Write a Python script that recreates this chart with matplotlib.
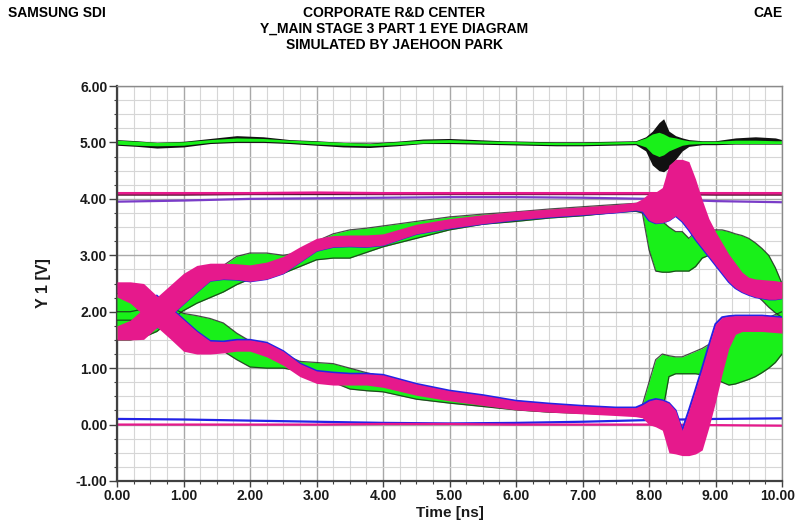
import numpy as np
import matplotlib
matplotlib.use('Agg')
import matplotlib.pyplot as plt
from matplotlib.ticker import MultipleLocator, FormatStrFormatter, FuncFormatter

plt.rcParams['font.family'] = ['Liberation Sans', 'DejaVu Sans']
plt.rcParams['font.weight'] = 'bold'

# time grid of the eye bundles [ns]
t_eye = [0.0, 0.2, 0.4, 0.6, 0.8, 1.0, 1.2, 1.4, 1.6, 1.8,
         2.0, 2.25, 2.5, 2.75, 3.0, 3.25, 3.5, 3.75, 4.0, 4.5,
         5.0, 5.5, 6.0, 6.5, 7.0, 7.5, 7.8, 7.9, 8.0, 8.1,
         8.2, 8.3, 8.4, 8.5, 8.6, 8.7, 8.8, 8.9, 9.0, 9.1,
         9.2, 9.3, 9.4, 9.5, 9.6, 9.7, 9.8, 9.9, 10.0]

# pink bundle, rising edge (upper / lower envelope) [V]
pu_hi = [1.75, 1.85, 2.06, 2.26, 2.47, 2.68, 2.82, 2.86, 2.86, 2.85,
         2.83, 2.88, 2.98, 3.15, 3.30, 3.35, 3.36, 3.36, 3.38, 3.55,
         3.65, 3.72, 3.78, 3.82, 3.86, 3.90, 3.94, 4.00, 4.10, 4.12,
         4.20, 4.60, 4.70, 4.70, 4.66, 4.35, 3.98, 3.65, 3.42, 3.22,
         3.02, 2.86, 2.70, 2.61, 2.58, 2.57, 2.56, 2.55, 2.53]
pu_lo = [1.50, 1.50, 1.51, 1.72, 1.93, 2.14, 2.35, 2.55, 2.58, 2.57,
         2.54, 2.58, 2.68, 2.88, 3.08, 3.15, 3.16, 3.15, 3.18, 3.38,
         3.48, 3.56, 3.63, 3.68, 3.72, 3.76, 3.80, 3.78, 3.62, 3.57,
         3.58, 3.62, 3.70, 3.60, 3.45, 3.28, 3.13, 2.98, 2.83, 2.68,
         2.53, 2.42, 2.35, 2.30, 2.26, 2.24, 2.22, 2.22, 2.24]
# pink bundle, falling edge
pd_hi = [2.53, 2.53, 2.50, 2.28, 2.07, 1.86, 1.65, 1.48, 1.47, 1.50,
         1.50, 1.45, 1.30, 1.08, 0.95, 0.92, 0.90, 0.90, 0.88, 0.72,
         0.60, 0.52, 0.42, 0.37, 0.33, 0.30, 0.30, 0.35, 0.42, 0.45,
         0.43, 0.38, 0.25, -0.10, 0.25, 0.62, 1.00, 1.40, 1.78, 1.90,
         1.92, 1.93, 1.93, 1.93, 1.93, 1.93, 1.92, 1.91, 1.90]
pd_lo = [2.26, 2.15, 1.94, 1.73, 1.52, 1.30, 1.25, 1.25, 1.27, 1.30,
         1.30, 1.20, 1.05, 0.85, 0.73, 0.70, 0.70, 0.70, 0.66, 0.52,
         0.42, 0.34, 0.26, 0.22, 0.19, 0.16, 0.14, 0.12, 0.00, -0.04,
         -0.10, -0.50, -0.52, -0.55, -0.55, -0.52, -0.45, -0.05, 0.40, 0.90,
         1.35, 1.60, 1.65, 1.65, 1.65, 1.65, 1.64, 1.63, 1.62]
# green bundle, rising edge
gu_lo = [1.50, 1.50, 1.55, 1.65, 1.85, 2.02, 2.15, 2.25, 2.35, 2.48,
         2.58, 2.62, 2.68, 2.80, 2.92, 2.95, 2.95, 3.05, 3.15, 3.30,
         3.45, 3.55, 3.60, 3.66, 3.70, 3.76, 3.78, 3.75, 3.10, 2.72,
         2.70, 2.70, 2.72, 2.72, 2.72, 2.80, 2.95, 3.00, 3.00, 2.95,
         2.85, 2.70, 2.55, 2.42, 2.30, 2.20, 2.08, 1.98, 1.90]
gu_hi = [2.00, 2.00, 2.05, 2.15, 2.25, 2.35, 2.50, 2.65, 2.82, 2.98,
         3.04, 3.04, 3.00, 3.05, 3.25, 3.38, 3.45, 3.48, 3.52, 3.60,
         3.68, 3.73, 3.77, 3.82, 3.86, 3.90, 3.92, 3.92, 3.85, 3.70,
         3.60, 3.50, 3.42, 3.42, 3.30, 3.42, 3.45, 3.45, 3.45, 3.45,
         3.42, 3.38, 3.35, 3.30, 3.22, 3.12, 3.00, 2.78, 2.50]
# green bundle, falling edge
gd_lo = [1.85, 1.85, 1.82, 1.75, 1.62, 1.50, 1.45, 1.40, 1.30, 1.15,
         1.02, 1.00, 1.00, 0.95, 0.85, 0.75, 0.63, 0.60, 0.58, 0.45,
         0.38, 0.32, 0.26, 0.22, 0.20, 0.18, 0.16, 0.15, 0.05, 0.15,
         0.20, 0.85, 0.90, 0.90, 0.90, 0.90, 0.88, 0.85, 0.80, 0.75,
         0.70, 0.72, 0.76, 0.80, 0.85, 0.92, 1.00, 1.10, 1.25]
gd_hi = [2.32, 2.32, 2.28, 2.20, 2.08, 1.97, 1.93, 1.88, 1.80, 1.62,
         1.48, 1.35, 1.25, 1.12, 1.10, 1.08, 1.00, 0.92, 0.85, 0.68,
         0.58, 0.50, 0.42, 0.36, 0.32, 0.28, 0.26, 0.35, 0.75, 1.15,
         1.25, 1.22, 1.20, 1.20, 1.25, 1.30, 1.35, 1.42, 1.50, 1.58,
         1.66, 1.70, 1.74, 1.78, 1.82, 1.86, 1.90, 1.95, 2.00]

# 5 V rail
top_t = [0.0, 0.3, 0.6, 1.0, 1.4, 1.8, 2.2, 2.6, 3.0, 3.4,
         3.8, 4.2, 4.6, 5.0, 5.4, 5.8, 6.2, 6.6, 7.0, 7.4,
         7.8, 7.95, 8.05, 8.15, 8.22, 8.3, 8.4, 8.5, 8.6, 8.8,
         9.0, 9.3, 9.6, 9.9, 10.0]
blk_hi = [5.05, 5.03, 5.00, 5.02, 5.07, 5.12, 5.10, 5.05, 5.03, 5.00,
          4.99, 5.02, 5.06, 5.07, 5.05, 5.03, 5.02, 5.01, 5.01, 5.02,
          5.03, 5.10, 5.20, 5.35, 5.42, 5.20, 5.12, 5.08, 5.05, 5.03,
          5.03, 5.08, 5.10, 5.08, 5.05]
blk_lo = [4.95, 4.93, 4.90, 4.92, 4.98, 5.00, 5.00, 4.98, 4.95, 4.92,
          4.91, 4.94, 4.98, 4.98, 4.97, 4.96, 4.95, 4.94, 4.94, 4.95,
          4.96, 4.85, 4.60, 4.50, 4.48, 4.55, 4.70, 4.85, 4.93, 4.96,
          4.96, 4.97, 4.97, 4.97, 4.97]
grn_hi = [5.04, 5.02, 5.00, 5.01, 5.05, 5.08, 5.07, 5.04, 5.02, 5.00,
          4.98, 5.01, 5.04, 5.05, 5.03, 5.02, 5.01, 5.00, 5.00, 5.01,
          5.02, 5.08, 5.15, 5.18, 5.15, 5.10, 5.08, 5.05, 5.03, 5.02,
          5.02, 5.04, 5.04, 5.03, 5.03]
grn_lo = [4.97, 4.95, 4.94, 4.95, 5.00, 5.02, 5.02, 5.00, 4.97, 4.95,
          4.94, 4.96, 4.99, 5.00, 4.99, 4.98, 4.97, 4.96, 4.96, 4.97,
          4.98, 4.92, 4.80, 4.75, 4.78, 4.85, 4.90, 4.95, 4.97, 4.98,
          4.98, 4.98, 4.98, 4.98, 4.98]

# near-flat reference traces
line_t = [0, 1, 2, 3, 4, 5, 6, 7, 8, 9, 10]
pink_41 = [4.10, 4.10, 4.10, 4.11, 4.10, 4.10, 4.10, 4.10, 4.10, 4.10, 4.10]
dark_41 = [4.07, 4.07, 4.08, 4.08, 4.08, 4.08, 4.08, 4.08, 4.08, 4.07, 4.07]
purple_40 = [3.95, 3.97, 4.00, 4.01, 4.02, 4.03, 4.03, 4.02, 4.00, 3.96, 3.94]
blue_01 = [0.10, 0.09, 0.07, 0.05, 0.03, 0.02, 0.03, 0.05, 0.08, 0.10, 0.11]
pink_00 = [0.00, 0.00, 0.00, 0.00, 0.01, 0.01, 0.00, 0.00, 0.00, -0.01, -0.02]

GREEN = '#19f019'
PINK = '#e6198c'
BLUE = '#2323e6'
PURPLE = '#7a3cc8'

fig = plt.figure(figsize=(7.97, 5.23), dpi=100)
ax = fig.add_axes([117 / 797, 42 / 523, 665 / 797, 395 / 523])

# 5 V rail
ax.fill_between(top_t, blk_lo, blk_hi, color='#111111', lw=0, zorder=2)
ax.fill_between(top_t, grn_lo, grn_hi, color=GREEN, lw=0, zorder=2.1)

# flat traces
ax.plot(line_t, dark_41, color='#5a1030', lw=1.2, zorder=2.4)
ax.plot(line_t, pink_41, color=PINK, lw=1.8, zorder=2.5)
ax.plot(line_t, purple_40, color=PURPLE, lw=1.6, zorder=2.5)
ax.plot(line_t, blue_01, color=BLUE, lw=1.6, zorder=2.5)
ax.plot(line_t, pink_00, color=PINK, lw=1.6, zorder=2.5)

# green bundles with dark edges
for lo, hi in [(gu_lo, gu_hi), (gd_lo, gd_hi)]:
    ax.fill_between(t_eye, lo, hi, color=GREEN, lw=0, zorder=2.6)
    ax.plot(t_eye, lo, color='#202020', lw=0.9, alpha=0.8, zorder=2.7)
    ax.plot(t_eye, hi, color='#202020', lw=0.9, alpha=0.8, zorder=2.7)

# blue traces trailing the pink bundles (after the first crossing)
ax.plot(t_eye[3:], pu_lo[3:], color=BLUE, lw=1.6, zorder=2.9)
ax.plot(t_eye[3:], pd_hi[3:], color=BLUE, lw=1.6, zorder=2.9)

# pink bundles
ax.fill_between(t_eye, pu_lo, pu_hi, color=PINK, lw=0, zorder=3)
ax.fill_between(t_eye, pd_lo, pd_hi, color=PINK, lw=0, zorder=3)

# axes styling
ax.set_xlim(0, 10)
ax.set_ylim(-1, 6)
ax.xaxis.set_major_locator(MultipleLocator(1))
ax.xaxis.set_minor_locator(MultipleLocator(0.25))
ax.yaxis.set_major_locator(MultipleLocator(1))
ax.yaxis.set_minor_locator(MultipleLocator(0.25))
# last time label is drawn separately so that it stays inside the figure
ax.xaxis.set_major_formatter(FuncFormatter(lambda v, p: '' if v > 9.5 else '%.2f' % v))
ax.yaxis.set_major_formatter(FormatStrFormatter('%.2f'))
ax.grid(which='major', color='#a8a8a8', lw=1.0, zorder=0)
ax.grid(which='minor', color='#d6d6d6', lw=0.8, zorder=0)
ax.set_axisbelow(True)

for side in ['left', 'bottom']:
    ax.spines[side].set_color('#404040')
    ax.spines[side].set_linewidth(1.6)
for side in ['top', 'right']:
    ax.spines[side].set_color('#8a8a8a')
    ax.spines[side].set_linewidth(1.0)

ax.tick_params(axis='y', which='major', length=6, width=1, color='#404040', pad=1, labelsize=10)
ax.tick_params(axis='y', which='minor', length=2.5, width=0.8, color='#404040')
ax.tick_params(axis='x', which='major', length=4, width=1, color='#404040', pad=2, labelsize=10)
ax.tick_params(axis='x', which='minor', length=2.5, width=0.8, color='#404040')
for lab in ax.get_xticklabels() + ax.get_yticklabels():
    lab.set_fontweight('bold')
    lab.set_color('#1a1a1a')

ax.annotate('10.00', xy=(10, 0), xycoords=('data', 'axes fraction'),
            xytext=(-3, -6), textcoords='offset points', ha='center', va='top',
            fontsize=10, fontweight='bold', color='#1a1a1a', annotation_clip=False)

ax.set_xlabel('Time [ns]', fontsize=11, fontweight='bold', labelpad=2, color='#1a1a1a')
ax.set_ylabel('Y 1 [V]', fontsize=11.5, fontweight='bold', labelpad=18, color='#1a1a1a')

# header
fig.text(8 / 797, 1 - 13 / 523, 'SAMSUNG SDI', fontsize=10, fontweight='bold', va='center', ha='left')
fig.text(783 / 797, 1 - 13 / 523, 'CAE', fontsize=10, fontweight='bold', va='center', ha='right')
fig.text(394 / 797, 1 - 13 / 523, 'CORPORATE R&D CENTER', fontsize=10, fontweight='bold', va='center', ha='center')
fig.text(394 / 797, 1 - 29 / 523, 'Y_MAIN STAGE 3 PART 1 EYE DIAGRAM', fontsize=10, fontweight='bold', va='center', ha='center')
fig.text(394 / 797, 1 - 45 / 523, 'SIMULATED BY JAEHOON PARK', fontsize=10, fontweight='bold', va='center', ha='center')

fig.savefig('out.png', dpi=100)
